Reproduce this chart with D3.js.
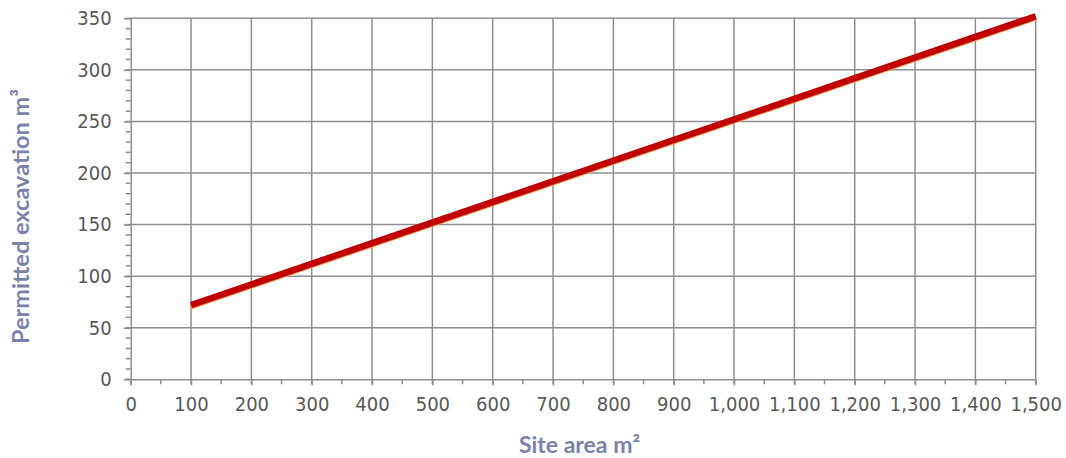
<!DOCTYPE html>
<html><head><meta charset="utf-8">
<script src="https://cdn.jsdelivr.net/npm/d3@7"></script>
<style>body{margin:0;background:#fff}</style>
</head><body>
<svg id="c" width="1066" height="458"></svg>
<script>
const siteArea = [100, 1500];
const permittedRed = [72, 352];
const permittedOrange = [70, 350];
const xTicks = d3.range(0, 1501, 100);
const yTicks = d3.range(0, 351, 50);
const xLabel = "Site area m²";
const yLabel = "Permitted excavation m³";

const svg = d3.select("#c");
const x = d3.scaleLinear().domain([0, 1500]).range([130.7, 1035.7]);
const y = d3.scaleLinear().domain([0, 350]).range([379.3, 18.3]);
const grid = "#8f8f8f";
const tickFont = "'DejaVu Sans Condensed', 'DejaVu Sans', sans-serif";

// gridlines
svg.append("g").selectAll("line").data(xTicks.filter(d => d > 0)).join("line")
  .attr("x1", d => x(d)).attr("x2", d => x(d)).attr("y1", y(0)).attr("y2", y(350))
  .attr("stroke", grid).attr("stroke-width", 1.5);
svg.append("g").selectAll("line").data(yTicks.filter(d => d > 0)).join("line")
  .attr("x1", x(0)).attr("x2", x(1500)).attr("y1", d => y(d)).attr("y2", d => y(d))
  .attr("stroke", grid).attr("stroke-width", 1.5);

// minor ticks
svg.append("g").selectAll("line").data(d3.range(0, 351, 10)).join("line")
  .attr("x1", x(0) - 5).attr("x2", x(0)).attr("y1", d => y(d)).attr("y2", d => y(d))
  .attr("stroke", grid).attr("stroke-width", 1.5);
svg.append("g").selectAll("line").data(d3.range(0, 1501, 50)).join("line")
  .attr("x1", d => x(d)).attr("x2", d => x(d)).attr("y1", y(0)).attr("y2", y(0) + 5)
  .attr("stroke", grid).attr("stroke-width", 1.5);

// axes
const xAxis = svg.append("g").attr("transform", `translate(0,${y(0)})`)
  .call(d3.axisBottom(x).tickValues(xTicks).tickSize(6).tickSizeOuter(0).tickPadding(12).tickFormat(d3.format(",")));
const yAxis = svg.append("g").attr("transform", `translate(${x(0)},0)`)
  .call(d3.axisLeft(y).tickValues(yTicks).tickSize(7).tickSizeOuter(0).tickPadding(12));
[xAxis, yAxis].forEach(a => {
  a.select(".domain").attr("stroke", grid).attr("stroke-width", 1.5);
  a.selectAll(".tick line").attr("stroke", grid).attr("stroke-width", 1.5);
  a.selectAll("text").attr("fill", "#595959").style("font-family", tickFont).style("font-size", "20px");
});

// lines
const line = d3.line().x(d => x(d[0])).y(d => y(d[1]));
svg.append("path").datum(siteArea.map((v, i) => [v, permittedOrange[i]]))
  .attr("d", line).attr("fill", "none").attr("stroke", "#F79646").attr("stroke-width", 4.5);
svg.append("path").datum(siteArea.map((v, i) => [v, permittedRed[i]]))
  .attr("d", line).attr("fill", "none").attr("stroke", "#C00000").attr("stroke-width", 6.5);

// titles
svg.append("text").attr("x", 579.5).attr("y", 453).attr("text-anchor", "middle")
  .attr("fill", "#7c83ab").style("font-family", "Lato").style("font-weight", "bold").style("font-size", "23px")
  .text(xLabel);
svg.append("text").attr("transform", "translate(29,216.5) rotate(-90)").attr("text-anchor", "middle")
  .attr("fill", "#7c83ab").style("font-family", "Lato").style("font-weight", "bold").style("font-size", "23.5px")
  .text(yLabel);
</script>
</body></html>
